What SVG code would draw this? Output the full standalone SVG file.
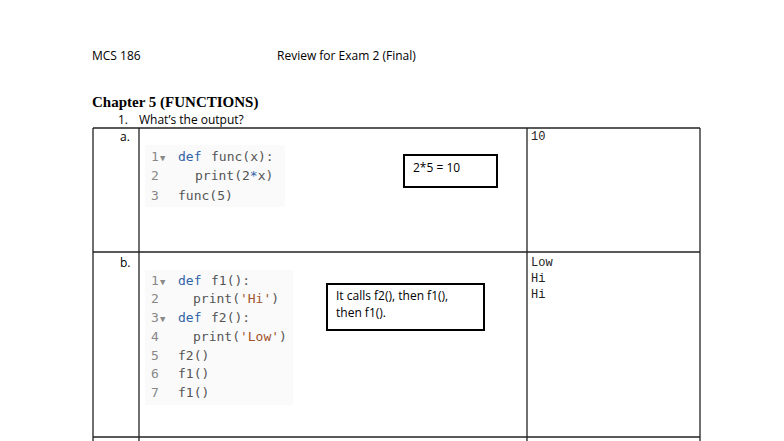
<svg xmlns="http://www.w3.org/2000/svg" width="784" height="441" viewBox="0 0 784 441">
<style>
.t{font-family:"Open Sans","Liberation Sans",sans-serif;font-size:12px;fill:#000}
.c{font-family:"DejaVu Sans Mono",monospace;font-size:13px}
.n{fill:#888}.k{fill:#3062a8}.f{fill:#555}.s{fill:#a0522d}
.o{font-family:"Liberation Mono",monospace;font-size:12px;fill:#222}
.ln{stroke:#222;stroke-width:1.3;fill:none}
.bx{fill:#fff;stroke:#000;stroke-width:2}
</style>
<rect width="784" height="441" fill="#fff"/>
<text class="t" x="92" y="60">MCS 186</text>
<text class="t" x="277" y="60">Review for Exam 2 (Final)</text>
<text x="92" y="107" font-family="Liberation Serif,serif" font-size="15" font-weight="bold">Chapter 5 (FUNCTIONS)</text>
<text class="t" x="118" y="124">1.</text>
<text class="t" x="139" y="124">What’s the output?</text>
<g id="table">
<line class="ln" x1="93" y1="128" x2="700" y2="128"/>
<line class="ln" x1="93" y1="252" x2="700" y2="252"/>
<line class="ln" x1="93" y1="437" x2="700" y2="437"/>
<line class="ln" x1="93" y1="128" x2="93" y2="441"/>
<line class="ln" x1="139" y1="128" x2="139" y2="441"/>
<line class="ln" x1="527" y1="128" x2="527" y2="441"/>
<line class="ln" x1="700" y1="128" x2="700" y2="441"/>
</g>
<g id="rowa">
<text class="t" x="120" y="141">a.</text>
<rect x="145" y="145" width="140" height="62" fill="#fafafa"/>
<text class="c" y="161"><tspan class="n" x="151">1</tspan><tspan class="n" x="160" font-size="9">▼</tspan><tspan class="k" x="178">def</tspan><tspan class="f" x="211">func(x):</tspan></text>
<text class="c" y="180"><tspan class="n" x="151">2</tspan><tspan class="f" x="195">print(2</tspan><tspan class="k">*</tspan><tspan class="f">x)</tspan></text>
<text class="c" y="200"><tspan class="n" x="151">3</tspan><tspan class="f" x="178">func(5)</tspan></text>
<rect class="bx" x="404" y="155" width="93" height="32"/>
<text class="t" x="413" y="172">2*5 = 10</text>
<text class="o" x="531" y="140">10</text>
</g>
<g id="rowb">
<text class="t" x="120" y="267">b.</text>
<rect x="145" y="270" width="148" height="135" fill="#fafafa"/>
<text class="c" y="285"><tspan class="n" x="151">1</tspan><tspan class="n" x="160" font-size="9">▼</tspan><tspan class="k" x="178">def</tspan><tspan class="f" x="211">f1():</tspan></text>
<text class="c" y="303"><tspan class="n" x="151">2</tspan><tspan class="f" x="193">print(</tspan><tspan class="s">'Hi'</tspan><tspan class="f">)</tspan></text>
<text class="c" y="322"><tspan class="n" x="151">3</tspan><tspan class="n" x="160" font-size="9">▼</tspan><tspan class="k" x="178">def</tspan><tspan class="f" x="211">f2():</tspan></text>
<text class="c" y="341"><tspan class="n" x="151">4</tspan><tspan class="f" x="193">print(</tspan><tspan class="s">'Low'</tspan><tspan class="f">)</tspan></text>
<text class="c" y="360"><tspan class="n" x="151">5</tspan><tspan class="f" x="178">f2()</tspan></text>
<text class="c" y="378"><tspan class="n" x="151">6</tspan><tspan class="f" x="178">f1()</tspan></text>
<text class="c" y="397"><tspan class="n" x="151">7</tspan><tspan class="f" x="178">f1()</tspan></text>
<rect class="bx" x="327" y="284" width="157" height="46"/>
<text class="t" x="336" y="300" font-size="11.5">It calls f2(), then f1(),</text>
<text class="t" x="336" y="317" font-size="11.5">then f1().</text>
<text class="o" x="531" y="266">Low</text>
<text class="o" x="531" y="282">Hi</text>
<text class="o" x="531" y="298">Hi</text>
</g>
</svg>
